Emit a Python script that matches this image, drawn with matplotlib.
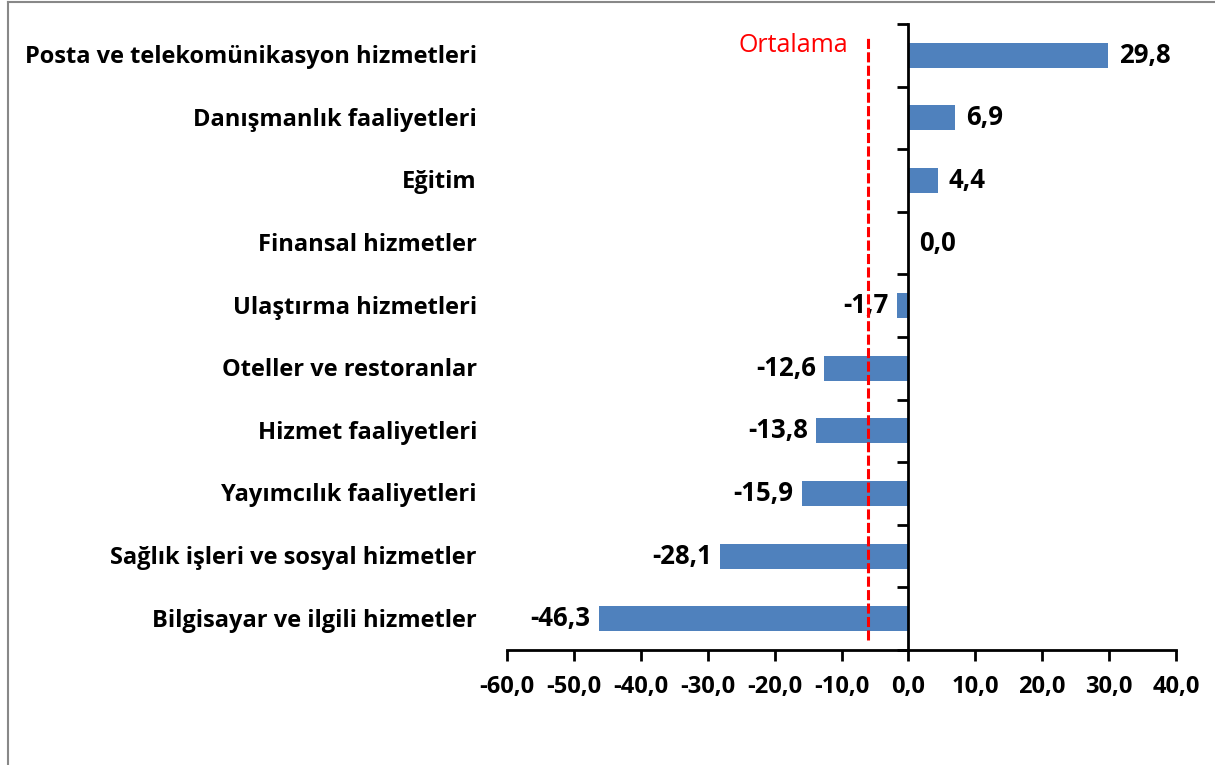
import matplotlib.pyplot as plt
import matplotlib.transforms as mtransforms
from matplotlib.lines import Line2D

plt.rcParams['font.family'] = ['Open Sans', 'DejaVu Sans']

categories = ['Posta ve telekomünikasyon hizmetleri', 'Danışmanlık faaliyetleri',
              'Eğitim', 'Finansal hizmetler', 'Ulaştırma hizmetleri',
              'Oteller ve restoranlar', 'Hizmet faaliyetleri', 'Yayımcılık faaliyetleri',
              'Sağlık işleri ve sosyal hizmetler', 'Bilgisayar ve ilgili hizmetler']
values = [29.8, 6.9, 4.4, 0.0, -1.7, -12.6, -13.8, -15.9, -28.1, -46.3]
mean_value = -6.0
xticks = [-60, -50, -40, -30, -20, -10, 0, 10, 20, 30, 40]

def fmt(v):
    return f"{v:.1f}".replace('.', ',')

fig = plt.figure(figsize=(12.15, 7.65), dpi=100)
W, H = 1215, 765
ax = fig.add_axes([507 / W, 1 - 650 / H, (1176 - 507) / W, (650 - 24) / H])

n = len(categories)
ypos = [n - 1 - i for i in range(n)]
ax.barh(ypos, values, height=0.4, color='#4F81BD', zorder=2)

ax.set_xlim(-60, 40)
ax.set_ylim(-0.5, n - 0.5)

for s in ['top', 'right']:
    ax.spines[s].set_visible(False)
ax.spines['left'].set_position(('data', 0))
ax.spines['left'].set_linewidth(2)
ax.spines['bottom'].set_linewidth(2)
ax.spines['left'].set_zorder(3)

ax.set_xticks(xticks)
ax.set_xticklabels([fmt(v) for v in xticks], fontsize=17, fontweight='bold')
ax.tick_params(axis='x', length=8, width=2, pad=10)

ax.set_yticks([y + 0.5 for y in range(-1, n)])
ax.set_yticklabels([])
ax.tick_params(axis='y', length=8, width=2, direction='out')

trans = mtransforms.blended_transform_factory(ax.transAxes, ax.transData)
for y, c in zip(ypos, categories):
    ax.text(-0.045, y - 0.03, c, transform=trans, ha='right', va='center',
            fontsize=17, fontweight='bold')

for y, v in zip(ypos, values):
    if v >= 0:
        ax.annotate(fmt(v), (v, y), xytext=(8, 0), textcoords='offset points',
                    ha='left', va='center', fontsize=18.5, fontweight='bold', zorder=4)
    else:
        ax.annotate(fmt(v), (v, y), xytext=(-6, 0), textcoords='offset points',
                    ha='right', va='center', fontsize=18.5, fontweight='bold', zorder=4)

ax.axvline(mean_value, ymin=0.016, ymax=0.981, color='red', ls=(0, (3.3, 1.1)),
           lw=2.2, zorder=5)
ax.text(-9.0, 0.965, 'Ortalama', transform=mtransforms.blended_transform_factory(
    ax.transData, ax.transAxes), ha='right', va='center', color='red', fontsize=18)

# frame around chart area
fig.add_artist(Line2D([8 / W, 8 / W], [0, 1 - 2 / H], color='#888888', lw=1.5))
fig.add_artist(Line2D([8 / W, 1], [1 - 2 / H, 1 - 2 / H], color='#888888', lw=1.5))

fig.savefig('out.png', dpi=100)
